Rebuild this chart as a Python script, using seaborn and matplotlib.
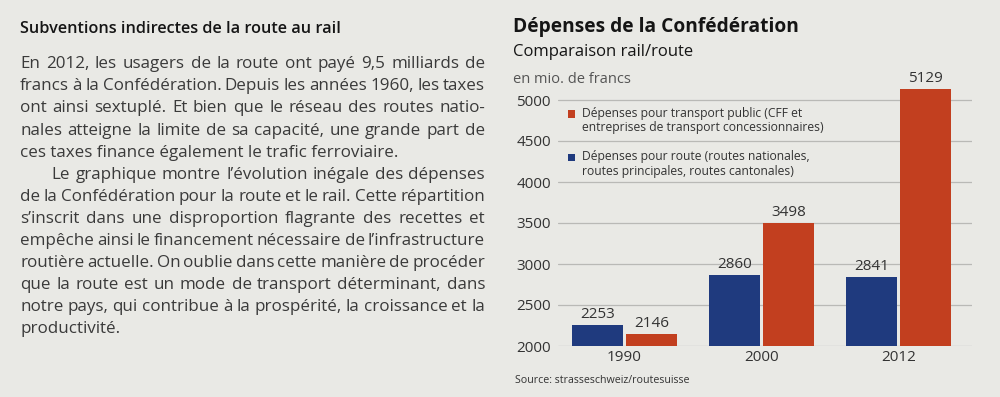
import matplotlib
matplotlib.use("Agg")
import matplotlib.pyplot as plt
import seaborn as sns
import pandas as pd
from matplotlib.patches import Rectangle, Patch
from matplotlib.legend_handler import HandlerPatch

# ---------------- data ----------------
years = ["1990", "2000", "2012"]
route_values = [2253, 2860, 2841]
public_values = [2146, 3498, 5129]
route_label = "Dépenses pour route (routes nationales,\nroutes principales, routes cantonales)"
public_label = "Dépenses pour transport public (CFF et\nentreprises de transport concessionnaires)"
y_ticks = [2000, 2500, 3000, 3500, 4000, 4500, 5000]

chart_title = "Dépenses de la Confédération"
chart_subtitle = "Comparaison rail/route"
unit_label = "en mio. de francs"
source_label = "Source: strasseschweiz/routesuisse"

left_title = "Subventions indirectes de la route au rail"
paragraph1 = [
    "En 2012, les usagers de la route ont payé 9,5 milliards de",
    "francs à la Confédération. Depuis les années 1960, les taxes",
    "ont ainsi sextuplé. Et bien que le réseau des routes natio-",
    "nales atteigne la limite de sa capacité, une grande part de",
    "ces taxes finance également le trafic ferroviaire.",
]
paragraph2 = [
    "Le graphique montre l’évolution inégale des dépenses",
    "de la Confédération pour la route et le rail. Cette répartition",
    "s’inscrit dans une disproportion flagrante des recettes et",
    "empêche ainsi le financement nécessaire de l’infrastructure",
    "routière actuelle. On oublie dans cette manière de procéder",
    "que la route est un mode de transport déterminant, dans",
    "notre pays, qui contribue à la prospérité, la croissance et la",
    "productivité.",
]

# ---------------- style ----------------
BG = "#e9e9e5"
BLUE = "#1f3a7e"
RED = "#c23f1f"
GRID = "#b9b9b6"
TXT = "#3a3a3a"
DARK = "#151515"
FONT = "Open Sans"

sns.set_theme(style="white", rc={"axes.facecolor": BG, "figure.facecolor": BG})
plt.rcParams["font.family"] = [FONT, "DejaVu Sans"]

W, H = 1000, 397
fig = plt.figure(figsize=(W / 100, H / 100), dpi=100)
fig.patch.set_facecolor(BG)
renderer = fig.canvas.get_renderer()


def fx(x):
    return x / W


def fy(y):
    return 1 - y / H


def ftext(x, y, s, **kw):
    return fig.text(fx(x), fy(y), s, va="baseline", ha="left", **kw)


def fit(t, target):
    w = t.get_window_extent(renderer).width
    t.set_fontsize(t.get_fontsize() * target / w)
    return t


# ---------------- left text panel ----------------
fit(ftext(20, 33, left_title, fontsize=12, fontweight="semibold", color=DARK), 322)

# body font size fitted on a non-justified line
probe = ftext(20, 0, paragraph1[-1], fontsize=12, color=TXT)
fit(probe, 366)
body_fs = probe.get_fontsize() * 1.03
probe.remove()

X0, X1 = 20, 485
base0, lead = 68.3, 22.08


def draw_line(text, x0, x1, y, justify):
    if not justify:
        ftext(x0, y, text, fontsize=body_fs, color=TXT)
        return
    words = text.split(" ")
    objs = [ftext(0, y, w, fontsize=body_fs, color=TXT) for w in words]
    widths = [o.get_window_extent(renderer).width for o in objs]
    gap = (x1 - x0 - sum(widths)) / max(len(words) - 1, 1)
    x = x0
    for o, w in zip(objs, widths):
        o.set_x(fx(x))
        x += w + gap


row = 0
for para, indent in ((paragraph1, 0), (paragraph2, 31.7)):
    for i, line in enumerate(para):
        start = X0 + (indent if i == 0 else 0)
        draw_line(line, start, X1, base0 + row * lead, i < len(para) - 1)
        row += 1

# ---------------- chart headers ----------------
fit(ftext(513, 32, chart_title, fontsize=15, fontweight="bold", color=DARK), 285)
fit(ftext(513, 55.5, chart_subtitle, fontsize=12, color=DARK), 180)
fit(ftext(513, 83, unit_label, fontsize=10, color="#555555"), 118)
fit(ftext(515, 383, source_label, fontsize=8, color="#333333"), 176)

# ---------------- bar chart ----------------
ax_left, ax_right, ax_bottom = 558, 972, 346
ymin, ymax = 2000, 5250
px_per_unit = (346 - 100) / 3000
ax_top = ax_bottom - (ymax - ymin) * px_per_unit
ax = fig.add_axes([fx(ax_left), fy(ax_bottom), (ax_right - ax_left) / W, (ax_bottom - ax_top) / H])
ax.set_facecolor(BG)

df = pd.DataFrame({
    "annee": years * 2,
    "valeur": route_values + public_values,
    "serie": [route_label] * len(years) + [public_label] * len(years),
})
sns.barplot(data=df, x="annee", y="valeur", hue="serie", order=years,
            hue_order=[route_label, public_label], palette=[BLUE, RED],
            width=0.79, gap=0.07, saturation=1, linewidth=0, legend=False, ax=ax)

for cont in ax.containers:
    ax.bar_label(cont, padding=2.5, fontsize=11, color="#333333")

ax.set_ylim(ymin, ymax)
ax.set_xlim(-0.485, 2.536)
ax.set_yticks(y_ticks)
ax.yaxis.grid(True, color=GRID, linewidth=0.9)
ax.xaxis.grid(False)
ax.set_axisbelow(True)
for s in ax.spines.values():
    s.set_visible(False)
ax.set_xlabel("")
ax.set_ylabel("")
ax.tick_params(axis="both", length=0, labelsize=11, colors="#333333")
ax.tick_params(axis="y", pad=5)
ax.tick_params(axis="x", pad=3)


class TopSquare(HandlerPatch):
    def create_artists(self, legend, orig_handle, xdescent, ydescent,
                       width, height, fontsize, trans):
        p = Rectangle((-xdescent, -ydescent + 0.6 * fontsize), width, height,
                      facecolor=orig_handle.get_facecolor(), linewidth=0,
                      transform=trans)
        return [p]


handles = [Patch(facecolor=RED), Patch(facecolor=BLUE)]
leg = ax.legend(handles, [public_label, route_label], loc="upper left",
                bbox_to_anchor=((567.7 - ax_left) / (ax_right - ax_left),
                                (ax_bottom - 107) / (ax_bottom - ax_top)),
                frameon=False, fontsize=8.75, handlelength=0.6, handleheight=0.6,
                handletextpad=0.55, labelspacing=1.3, borderpad=0, borderaxespad=0,
                handler_map={Patch: TopSquare()})
for t in leg.get_texts():
    t.set_color("#333333")
    t.set_linespacing(1.15)

fig.savefig("out.png", dpi=100, facecolor=BG)
